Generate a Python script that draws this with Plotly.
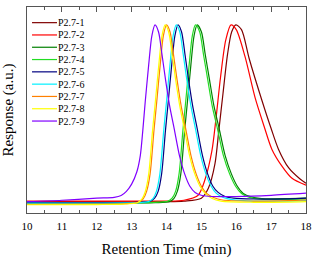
import plotly.graph_objects as go

names = ["P2.7-1", "P2.7-2", "P2.7-3", "P2.7-4", "P2.7-5", "P2.7-6", "P2.7-7", "P2.7-8", "P2.7-9"]
colors = ["#800000", "#FF0000", "#008000", "#22DD22", "#000080", "#00F0FF", "#FF8000", "#FFFF00", "#8000FF"]

x1 = [10, 12, 14.0, 14.5, 15.0, 15.2, 15.39, 15.5, 15.62, 15.75, 15.87, 15.99, 16.15, 16.37, 16.73, 17.0, 17.21, 17.5, 17.83, 18]
y1 = [0.055, 0.055, 0.055, 0.058, 0.072, 0.12, 0.24, 0.40, 0.58, 0.77, 0.88, 0.913, 0.89, 0.75, 0.55, 0.41, 0.31, 0.22, 0.165, 0.145]

x2 = [10, 12, 14.0, 14.5, 14.9, 15.1, 15.3, 15.42, 15.55, 15.7, 15.85, 16.0, 16.25, 16.54, 16.8, 17.02, 17.3, 17.59, 18]
y2 = [0.058, 0.058, 0.058, 0.062, 0.085, 0.16, 0.30, 0.46, 0.66, 0.84, 0.913, 0.89, 0.76, 0.56, 0.42, 0.31, 0.23, 0.17, 0.135]

x3 = [10, 12, 13.68, 14.08, 14.21, 14.31, 14.41, 14.52, 14.60, 14.70, 14.79, 14.88, 15.0, 15.11, 15.23, 15.36, 15.51, 15.68, 15.86, 16.03, 16.2, 16.43, 16.73, 17.5, 18]
y3 = [0.048, 0.048, 0.05, 0.055, 0.07, 0.105, 0.19, 0.40, 0.54, 0.72, 0.86, 0.913, 0.88, 0.77, 0.65, 0.52, 0.41, 0.28, 0.19, 0.13, 0.095, 0.078, 0.07, 0.07, 0.072]

x4 = [10, 12, 13.63, 14.03, 14.16, 14.26, 14.36, 14.47, 14.55, 14.65, 14.74, 14.83, 14.95, 15.06, 15.18, 15.31, 15.46, 15.63, 15.81, 15.98, 16.15, 16.38, 16.68, 17.5, 18]
y4 = [0.05, 0.05, 0.052, 0.057, 0.072, 0.105, 0.19, 0.40, 0.54, 0.72, 0.86, 0.913, 0.88, 0.77, 0.65, 0.52, 0.41, 0.28, 0.19, 0.13, 0.095, 0.076, 0.068, 0.066, 0.068]

x5 = [10, 12, 13.13, 13.53, 13.66, 13.76, 13.86, 13.97, 14.05, 14.15, 14.24, 14.33, 14.43, 14.53, 14.63, 14.75, 14.88, 15.03, 15.18, 15.33, 15.48, 15.68, 15.93, 16.5, 17.5, 18]
y5 = [0.05, 0.05, 0.052, 0.057, 0.072, 0.105, 0.19, 0.40, 0.54, 0.72, 0.86, 0.913, 0.88, 0.77, 0.65, 0.52, 0.41, 0.28, 0.19, 0.13, 0.10, 0.08, 0.072, 0.068, 0.069, 0.072]

x6 = [10, 12, 13.08, 13.48, 13.61, 13.71, 13.81, 13.92, 14.0, 14.1, 14.19, 14.28, 14.38, 14.48, 14.58, 14.7, 14.83, 14.98, 15.13, 15.28, 15.43, 15.63, 15.88, 16.5, 17.5, 18]
y6 = [0.048, 0.048, 0.05, 0.055, 0.07, 0.105, 0.19, 0.40, 0.54, 0.72, 0.86, 0.913, 0.88, 0.77, 0.65, 0.52, 0.41, 0.28, 0.19, 0.13, 0.095, 0.075, 0.065, 0.058, 0.058, 0.06]

x7 = [10, 12, 12.8, 13.2, 13.33, 13.43, 13.53, 13.64, 13.72, 13.82, 13.91, 14.0, 14.1, 14.2, 14.3, 14.42, 14.55, 14.7, 14.85, 15.0, 15.15, 15.35, 15.6, 16.5, 17.5, 18]
y7 = [0.042, 0.043, 0.045, 0.052, 0.068, 0.105, 0.19, 0.40, 0.54, 0.72, 0.86, 0.913, 0.88, 0.77, 0.65, 0.52, 0.41, 0.28, 0.19, 0.13, 0.095, 0.075, 0.063, 0.058, 0.06, 0.063]

x8 = [10, 12, 12.76, 13.16, 13.29, 13.39, 13.49, 13.60, 13.68, 13.78, 13.87, 13.96, 14.06, 14.16, 14.26, 14.38, 14.51, 14.66, 14.81, 14.96, 15.11, 15.31, 15.56, 16.5, 17.5, 18]
y8 = [0.04, 0.041, 0.043, 0.05, 0.066, 0.103, 0.19, 0.40, 0.54, 0.72, 0.86, 0.913, 0.88, 0.77, 0.65, 0.52, 0.41, 0.28, 0.19, 0.13, 0.095, 0.07, 0.058, 0.052, 0.053, 0.055]

x9 = [10, 11, 12, 12.5, 12.7, 12.85, 13.0, 13.15, 13.25, 13.32, 13.39, 13.49, 13.58, 13.67, 13.77, 13.87, 13.97, 14.09, 14.22, 14.37, 14.52, 14.67, 14.82, 15.02, 15.3, 16, 17, 18]
y9 = [0.055, 0.062, 0.072, 0.076, 0.085, 0.105, 0.14, 0.20, 0.28, 0.40, 0.54, 0.72, 0.86, 0.913, 0.88, 0.77, 0.65, 0.52, 0.41, 0.28, 0.19, 0.13, 0.10, 0.085, 0.08, 0.08, 0.086, 0.096]

xs = [x1, x2, x3, x4, x5, x6, x7, x8, x9]
ys = [y1, y2, y3, y4, y5, y6, y7, y8, y9]

x_ticks = [10, 11, 12, 13, 14, 15, 16, 17, 18]

serif = "Liberation Serif"

fig = go.Figure()
for name, color, x, y in zip(names, colors, xs, ys):
    fig.add_trace(go.Scatter(x=x, y=y, mode="lines", name=name,
                             line=dict(color=color, width=1.2, shape="spline", smoothing=0.8),
                             showlegend=False))

# manual legend (compact, like the original)
leg_x0, leg_x1, leg_tx = 0.018, 0.1075, 0.111
leg_y0, leg_dy = 0.924, 0.0597
for i, (name, color) in enumerate(zip(names, colors)):
    yy = leg_y0 - i * leg_dy
    fig.add_shape(type="line", xref="paper", yref="paper", x0=leg_x0, x1=leg_x1, y0=yy, y1=yy,
                  line=dict(color=color, width=1.2))
    fig.add_annotation(xref="paper", yref="paper", x=leg_tx, y=yy, text=name, showarrow=False,
                       xanchor="left", yanchor="middle", xshift=-2,
                       font=dict(family=serif, size=10, color="#000000"))

fig.update_layout(
    width=313, height=258,
    margin=dict(l=27, r=7, t=7, b=45),
    paper_bgcolor="white", plot_bgcolor="white",
    font=dict(family=serif, color="#000000"),
    xaxis=dict(range=[10, 18], tickvals=x_ticks, ticktext=[str(v) for v in x_ticks],
               automargin=False, ticklabelstandoff=3,
               ticks="inside", ticklen=5, tickwidth=1, tickcolor="#555555",
               minor=dict(dtick=0.5, ticks="inside", ticklen=3, tickwidth=1, tickcolor="#555555"),
               showline=True, linecolor="#555555", linewidth=1, mirror="ticks",
               showgrid=False, zeroline=False,
               tickfont=dict(family=serif, size=11, color="#000000"),
               title=dict(text="Retention Time (min)", font=dict(family=serif, size=15, color="#000000"), standoff=12)),
    yaxis=dict(range=[0, 1], showticklabels=False, ticks="", automargin=False,
               showline=True, linecolor="#555555", linewidth=1, mirror=True,
               showgrid=False, zeroline=False,
               title=dict(text="Response (a.u.)", font=dict(family=serif, size=15, color="#000000"), standoff=8)),
)

fig.write_html("out.html")
